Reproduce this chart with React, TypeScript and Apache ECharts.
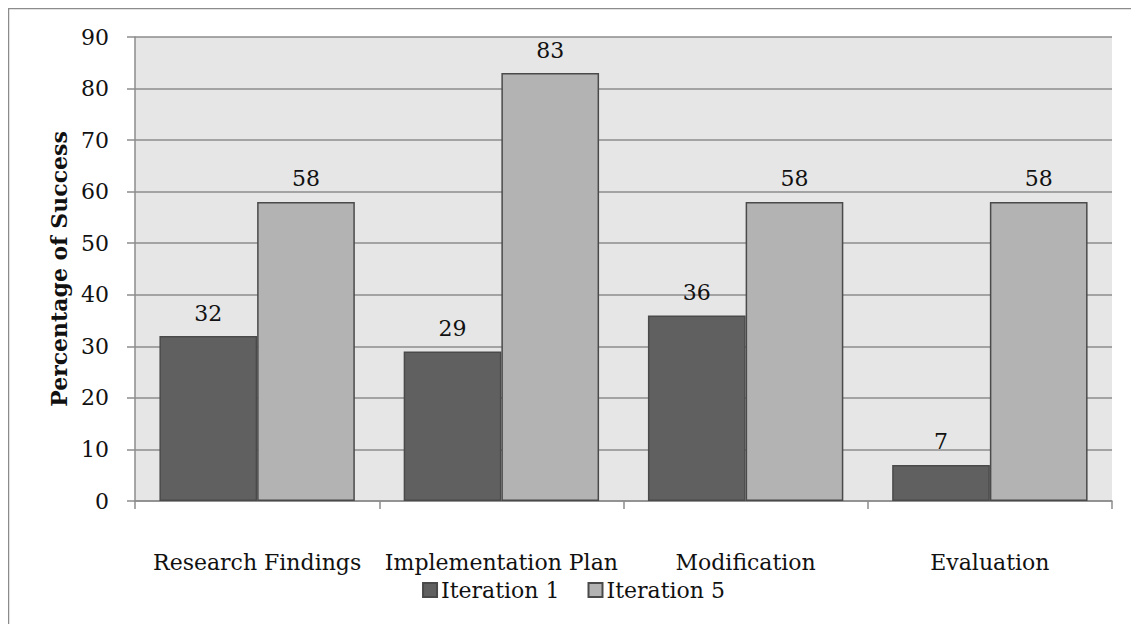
import React, { useEffect, useRef } from "react";
import * as echarts from "echarts";

const categories = ["Research Findings", "Implementation Plan", "Modification", "Evaluation"];
const iteration1 = [32, 29, 36, 7];
const iteration5 = [58, 83, 58, 58];
const seriesNames = ["Iteration 1", "Iteration 5"];
const yTicks = { min: 0, max: 90, interval: 10 };

const FONT = "DejaVu Serif";
const FS = 22;

export default function App() {
  const ref = useRef<HTMLDivElement>(null);

  useEffect(() => {
    if (!ref.current) return;
    const chart = echarts.init(ref.current, null, { renderer: "svg" });
    const labelStyle = {
      show: true,
      position: "top" as const,
      distance: 12,
      color: "#111",
      fontFamily: FONT,
      fontSize: FS,
    };
    chart.setOption({
      animation: false,
      backgroundColor: "#ffffff",
      graphic: [
        {
          type: "rect",
          shape: { x: 0.5, y: 0.5, width: 1200, height: 800 },
          style: { fill: "none", stroke: "#8c8c8c", lineWidth: 1.5 },
          silent: true,
          z: 100,
        },
      ],
      grid: {
        left: 127,
        right: 27,
        top: 29,
        bottom: 123,
        show: true,
        backgroundColor: "#e6e6e6",
        borderWidth: 0,
      },
      legend: {
        bottom: 18,
        left: "center",
        itemWidth: 14,
        itemHeight: 14,
        itemGap: 28,
        icon: "rect",
        textStyle: { fontFamily: FONT, fontSize: FS, color: "#111", padding: [0, 0, 0, -1] },
        data: seriesNames,
      },
      xAxis: {
        type: "category",
        data: categories,
        axisLine: { show: true, lineStyle: { color: "#8c8c8c", width: 1.5 } },
        axisTick: { show: true, length: 8, inside: false, lineStyle: { color: "#8c8c8c", width: 1.5 } },
        axisLabel: { interval: 0, fontFamily: FONT, fontSize: FS, color: "#111", margin: 50 },
        splitLine: { show: false },
      },
      yAxis: {
        type: "value",
        min: yTicks.min,
        max: yTicks.max,
        interval: yTicks.interval,
        name: "Percentage of Success",
        nameLocation: "middle",
        nameGap: 63,
        nameRotate: 90,
        nameTextStyle: { fontFamily: FONT, fontSize: FS, fontWeight: "bold", color: "#111" },
        axisLine: { show: true, lineStyle: { color: "#8c8c8c", width: 1.5 } },
        axisTick: { show: true, length: 8, lineStyle: { color: "#8c8c8c", width: 1.5 } },
        axisLabel: { fontFamily: FONT, fontSize: FS, color: "#111", margin: 26 },
        splitLine: { show: true, lineStyle: { color: "#8c8c8c", width: 1.5 } },
      },
      series: [
        {
          name: seriesNames[0],
          type: "bar",
          data: iteration1,
          barGap: "0%",
          barCategoryGap: "20%",
          itemStyle: { color: "#606060", borderColor: "#4a4a4a", borderWidth: 1.5 },
          label: labelStyle,
        },
        {
          name: seriesNames[1],
          type: "bar",
          data: iteration5,
          barGap: "0%",
          barCategoryGap: "20%",
          itemStyle: { color: "#b3b3b3", borderColor: "#4a4a4a", borderWidth: 1.5 },
          label: labelStyle,
        },
      ],
    });
    return () => chart.dispose();
  }, []);

  return <div ref={ref} style={{ width: 1131, height: 616 }} />;
}
